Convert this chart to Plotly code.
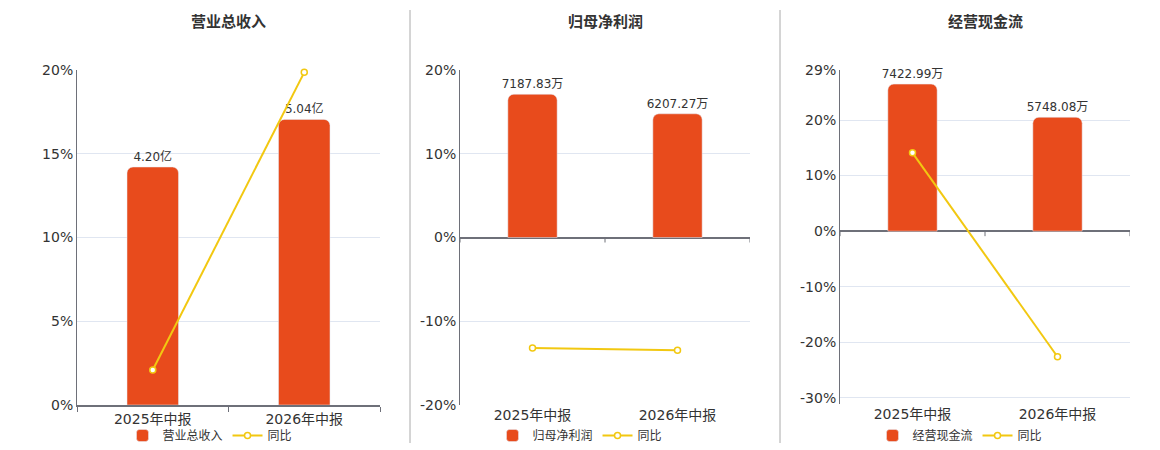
import plotly.graph_objects as go

# ========== 数据 ==========
categories = ['2025年中报', '2026年中报']
panel_titles = ['营业总收入', '归母净利润', '经营现金流']
bar_names = ['营业总收入', '归母净利润', '经营现金流']
bar_values = [
    [4.20, 5.04],
    [7187.83, 6207.27],
    [7422.99, 5748.08],
]
bar_units = ['亿', '万', '万']
yoy_name = '同比'
yoy_values = [
    [2.09, 19.86],
    [-13.2, -13.45],
    [14.1, -22.6],
]
pct_ticks = [
    [0, 5, 10, 15, 20],
    [-20, -10, 0, 10, 20],
    [-30, -20, -10, 0, 10, 20, 29],
]

# ========== 布局参数 ==========
W, H = 1160, 450
BAR_COLOR = '#E84B1C'
LINE_COLOR = '#F2C811'
AXIS_COLOR = '#6E7079'
GRID_COLOR = '#E0E6F1'
TEXT_COLOR = '#333333'
FONT = 'DejaVu Sans, Noto Sans CJK SC, sans-serif'

# 每个面板的绘图区（像素）
plot_boxes = [(77, 380, 70, 405), (460, 750, 70, 405), (840, 1130, 70, 404)]
pct_ranges = [[0, 20], [-20, 20], [-31.1, 29]]
bar_per_pct = [0.2956, 420.3, 280.5]   # 柱子坐标轴与百分比坐标轴的比例
legend_x = [210, 580, 960]
separators = [410, 780]

fig = go.Figure()
layout = {}

for p in range(3):
    x0, x1, y0, y1 = plot_boxes[p]
    dom_x = [x0 / W, x1 / W]
    dom_y = [1 - y1 / H, 1 - y0 / H]
    xa = 'xaxis' if p == 0 else f'xaxis{p + 1}'
    xr = 'x' if p == 0 else f'x{p + 1}'
    ya_bar = 'yaxis' if p == 0 else f'yaxis{2 * p + 1}'
    yr_bar = 'y' if p == 0 else f'y{2 * p + 1}'
    ya_pct = f'yaxis{2 * p + 2}'
    yr_pct = f'y{2 * p + 2}'
    lg = 'legend' if p == 0 else f'legend{p + 1}'

    # 柱子（主轴，隐藏）
    fig.add_trace(go.Bar(
        x=categories, y=bar_values[p],
        xaxis=xr, yaxis=yr_bar,
        name=bar_names[p],
        marker=dict(color=BAR_COLOR, cornerradius=6),
        width=0.34,
        text=bar_values[p],
        texttemplate='%{y:.2f}' + bar_units[p],
        textposition='outside',
        constraintext='none',
        textfont=dict(size=12, color=TEXT_COLOR),
        cliponaxis=False,
        legend=lg,
    ))
    # 同比折线（叠加轴，显示刻度）
    fig.add_trace(go.Scatter(
        x=categories, y=yoy_values[p],
        xaxis=xr, yaxis=yr_pct,
        name=yoy_name,
        mode='lines+markers',
        line=dict(color=LINE_COLOR, width=2),
        marker=dict(size=6, color='white', line=dict(color=LINE_COLOR, width=1.5)),
        cliponaxis=False,
        legend=lg,
    ))

    lo, hi = pct_ranges[p]
    s = bar_per_pct[p]
    layout[xa] = dict(
        domain=dom_x, anchor=yr_pct, type='category',
        range=[-0.5, 1.5], automargin=False,
        showgrid=False, zeroline=False,
        showline=(p == 0), linecolor=AXIS_COLOR, linewidth=1.5,
        ticks='outside' if p == 0 else '', tickson='boundaries',
        ticklen=5, tickcolor=AXIS_COLOR,
        tickfont=dict(size=14, color=TEXT_COLOR),
    )
    layout[ya_bar] = dict(
        domain=dom_y, anchor=xr, range=[lo * s, hi * s], automargin=False,
        showgrid=False, zeroline=False, showticklabels=False,
        showline=False,
    )
    tv = pct_ticks[p] + ([lo] if lo not in pct_ticks[p] else [])
    tt = [f'{v}%' for v in pct_ticks[p]] + ([''] if lo not in pct_ticks[p] else [])
    layout[ya_pct] = dict(
        overlaying=yr_bar, anchor=xr, side='left',
        range=[lo, hi], automargin=False,
        tickvals=tv, ticktext=tt,
        showgrid=True, gridcolor=GRID_COLOR, gridwidth=1,
        zeroline=(p != 0), zerolinecolor=AXIS_COLOR, zerolinewidth=1.5,
        showline=True, linecolor=AXIS_COLOR, linewidth=1,
        ticks='', tickfont=dict(size=14, color=TEXT_COLOR),
    )
    layout[lg] = dict(
        orientation='h', x=legend_x[p] / W, xanchor='center',
        y=0, yanchor='bottom',
        font=dict(size=12, color=TEXT_COLOR),
        bgcolor='rgba(0,0,0,0)', itemwidth=30,
    )

    # 标题
    fig.add_annotation(
        text=f'<b>{panel_titles[p]}</b>', xref='paper', yref='paper',
        x=(x0 + x1) / 2 / W, y=1 - 22 / H, xanchor='center', yanchor='middle',
        showarrow=False, font=dict(size=15, color=TEXT_COLOR),
    )
    # 零线上的刻度（面板 2、3）
    if p != 0:
        for b in [-0.5, 0.5, 1.5]:
            fig.add_shape(
                type='line', xref=xr, yref=yr_pct,
                x0=b, x1=b, ysizemode='pixel', yanchor=0, y0=0, y1=-5,
                line=dict(color=AXIS_COLOR, width=1),
            )

# 面板之间的分隔线
for sx in separators:
    fig.add_shape(
        type='line', xref='paper', yref='paper',
        x0=sx / W, x1=sx / W, y0=1 - 10 / H, y1=1 - 443 / H,
        line=dict(color='#AAAAAA', width=1),
    )

fig.update_layout(
    **layout,
    width=W, height=H,
    margin=dict(l=0, r=0, t=0, b=0, autoexpand=False),
    paper_bgcolor='white', plot_bgcolor='white',
    font=dict(family=FONT, color=TEXT_COLOR),
    barmode='group',
    showlegend=True,
)

fig.write_html(
    'out.html',
    config={'displayModeBar': False},
    post_script="document.body.style.margin='0';",
)
